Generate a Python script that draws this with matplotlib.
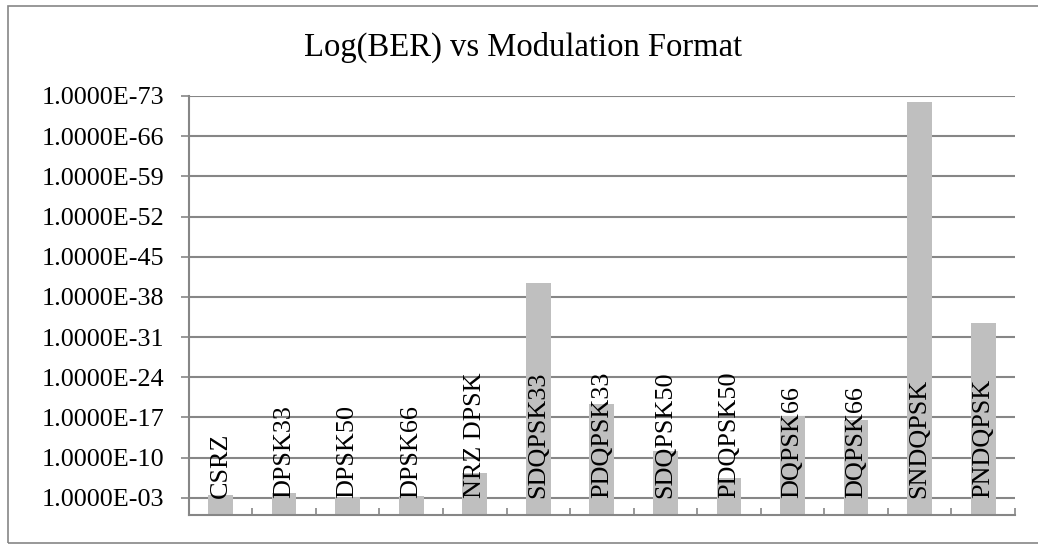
import matplotlib
matplotlib.use("Agg")
import matplotlib.pyplot as plt
from matplotlib.patches import Rectangle

# modulation formats and -log10(BER)
formats = ["CSRZ", "DPSK33", "DPSK50", "DPSK66", "NRZ DPSK", "SDQPSK33", "PDQPSK33",
           "SDQPSK50", "PDQPSK50", "DQPSK66", "DQPSK66", "SNDQPSK", "PNDQPSK"]
neg_log_ber = [3.47, 3.77, 3.2, 3.3, 7.4, 40.35, 19.3, 11.1, 6.4, 17.3, 16.5, 71.9, 33.4]
tick_exps = [3, 10, 17, 24, 31, 38, 45, 52, 59, 66, 73]
tick_labels = ["1.0000E-%02d" % e for e in tick_exps]

W, H = 1038, 544
GRAY = "#868686"
BAR = "#bfbfbf"
plt.rcParams['font.family'] = ['Liberation Serif', 'DejaVu Serif']

fig = plt.figure(figsize=(W / 100, H / 100), dpi=100)
ax = fig.add_axes([188.7 / W, 1 - 515 / H, (1015 - 188.7) / W, (515 - 96) / H])

# chart border
fig.patches.append(Rectangle((8.3 / W, 1.5 / H), 1.2, (H - 6 - 1.5) / H,
                             transform=fig.transFigure, fill=False,
                             edgecolor=GRAY, lw=1.2))

x = list(range(len(formats)))
ax.bar(x, neg_log_ber, width=0.39, color=BAR, zorder=2)

for xi, name in zip(x, formats):
    ax.annotate(name, (xi, 0), xytext=(0, 12.5), textcoords="offset points",
                rotation=90, ha="center", va="bottom", fontsize=18.8, zorder=3)

ax.set_xlim(-0.5, len(formats) - 0.5)
ax.set_ylim(0, 73)
ax.set_yticks(tick_exps)
ax.set_yticklabels(tick_labels, fontsize=18.8)
ax.yaxis.grid(True, color=GRAY, lw=1.5, zorder=1)
ax.set_axisbelow(True)
ax.tick_params(axis="y", length=5.5, width=1.2, color=GRAY, pad=12)
ax.set_xticks([i - 0.5 for i in range(len(formats) + 1)])
ax.set_xticklabels([])
ax.tick_params(axis="x", direction="in", length=5, width=1.2, color=GRAY)

for side in ["top", "right"]:
    ax.spines[side].set_visible(False)
for side in ["left", "bottom"]:
    ax.spines[side].set_color(GRAY)
    ax.spines[side].set_linewidth(1.5)

fig.text(523 / W, 1 - 47 / H, "Log(BER) vs Modulation Format",
         ha="center", va="center", fontsize=23.5)

fig.savefig("out.png", dpi=100)
